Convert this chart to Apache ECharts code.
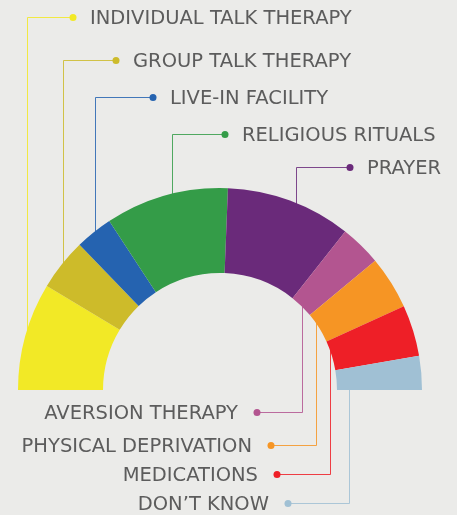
<!DOCTYPE html>
<html>
<head>
<meta charset="utf-8">
<script src="https://cdn.jsdelivr.net/npm/echarts@6/dist/echarts.min.js"></script>
<style>
  html, body { margin: 0; padding: 0; background: #ebebe9; }
  #chart { width: 457px; height: 515px; }
</style>
</head>
<body>
<div id="chart"></div>
<script>
// 치료 유형 (왼쪽 -> 오른쪽)
const categories = [
  'INDIVIDUAL TALK THERAPY', 'GROUP TALK THERAPY', 'LIVE-IN FACILITY',
  'RELIGIOUS RITUALS', 'PRAYER', 'AVERSION THERAPY',
  'PHYSICAL DEPRIVATION', 'MEDICATIONS', 'DON\u2019T KNOW'
];
const values = [17.2, 8.3, 6.0, 19.7, 20.0, 6.6, 8.5, 8.2, 5.4];
const colors = ['#f2e926', '#cdbb2a', '#2563b0', '#349c48', '#6a2a7a',
                '#b35590', '#f69524', '#ee1f27', '#a0c0d4'];

// 라벨 배치 (top = 위쪽 라벨, 아니면 아래쪽)
const labelSide = ['top', 'top', 'top', 'top', 'top', 'bottom', 'bottom', 'bottom', 'bottom'];
const labelY = [17, 60, 97, 134, 167, 412, 445, 474, 503];
const dotX = [73, 116, 153, 225, 350, 257, 271, 277, 288];
// 지시선이 조각의 어느 지점에서 나오는지 (0 = 조각 시작, 1 = 끝)
const anchorFrac = [0.55, 0.55, 0.55, 0.55, 0.55, 0.53, 0.33, 0.32, 0.5];

const cx = 220, cy = 390, rIn = 117, rOut = 202;
const anchorR = [202, 202, 202, 202, 202, 117, 117, 117, 129];

const chart = echarts.init(document.getElementById('chart'));

// 지시선 + 점 + 텍스트
const total = values.reduce((a, b) => a + b, 0);
const graphics = [];
let acc = 0;
values.forEach((v, i) => {
  const ang = Math.PI - (acc + v * anchorFrac[i]) / total * Math.PI;
  acc += v;
  const top = labelSide[i] === 'top';
  // 1px 선이 선명하게 보이도록 .5 로 맞춤
  const ax = Math.round(cx + anchorR[i] * Math.cos(ang)) + 0.5;
  // 조각 안쪽으로 조금 들어가게 (파이 아래에 깔림)
  const ay = cy - anchorR[i] * Math.sin(ang) + (top ? 4 : -4);
  const y = labelY[i] + 0.5;
  graphics.push({
    type: 'polyline',
    z: 0,
    shape: { points: [[ax, ay], [ax, y], [dotX[i], y]] },
    style: { stroke: colors[i], lineWidth: 1, fill: null, opacity: 0.85 }
  });
  graphics.push({
    type: 'circle',
    z: 5,
    shape: { cx: dotX[i], cy: y, r: 3.5 },
    style: { fill: colors[i] }
  });
  graphics.push({
    type: 'text',
    z: 5,
    x: top ? dotX[i] + 17 : dotX[i] - 19,
    y: labelY[i] + 2,
    style: {
      text: categories[i],
      fill: '#5c5c5c',
      font: '19.5px "DejaVu Sans"',
      align: top ? 'left' : 'right',
      verticalAlign: 'middle'
    }
  });
});

const option = {
  backgroundColor: '#ebebe9',
  animation: false,
  graphic: graphics,
  series: [{
    type: 'pie',
    center: [cx, cy],
    radius: [rIn, rOut],
    startAngle: 180,
    endAngle: 360,
    clockwise: true,
    label: { show: false },
    labelLine: { show: false },
    itemStyle: { borderWidth: 0 },
    data: categories.map((name, i) => ({
      name: name,
      value: values[i],
      itemStyle: { color: colors[i] }
    }))
  }]
};

chart.setOption(option);
</script>
</body>
</html>
